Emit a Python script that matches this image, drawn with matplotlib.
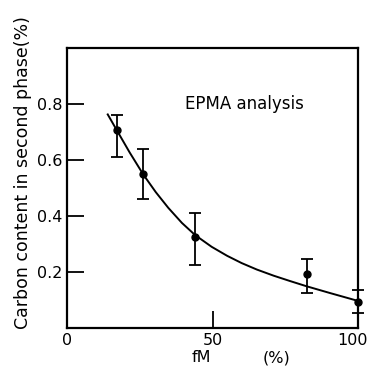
import matplotlib
matplotlib.use("Agg")
import matplotlib.pyplot as plt
import numpy as np

# data
fm = [17.1, 26.2, 44.0, 82.4, 100.0]
carbon = [0.707, 0.549, 0.325, 0.193, 0.095]
err_low = [0.61, 0.46, 0.227, 0.126, 0.055]
err_high = [0.76, 0.64, 0.41, 0.248, 0.138]

curve_x = [14.0, 17.1, 21.5, 26.2, 30.5, 34.8, 39.5, 44.0, 49.7, 55.0, 60.0, 65.2, 71.0, 76.6, 82.4, 90.4, 100.0]
curve_y = [0.763, 0.707, 0.628, 0.549, 0.486, 0.430, 0.376, 0.333, 0.291, 0.259, 0.233, 0.210, 0.188, 0.169, 0.150, 0.126, 0.098]

xticks = [0, 50, 100]
xticklabels = ["0", "50", "100"]
yticks = [0.2, 0.4, 0.6, 0.8]
yticklabels = ["0.2", "0.4", "0.6", "0.8"]

fig = plt.figure(figsize=(3.68, 3.69), dpi=100)
ax = fig.add_axes([0.182, 0.110, 0.791, 0.760])

ax.plot(curve_x, curve_y, color="black", lw=1.4, solid_joinstyle="round")
yerr = [np.array(carbon) - np.array(err_low), np.array(err_high) - np.array(carbon)]
ax.errorbar(fm, carbon, yerr=yerr, fmt="o", color="black", ms=5, capsize=4,
            elinewidth=1.3, capthick=1.3, clip_on=False, zorder=5)

ax.set_xlim(0, 100)
ax.set_ylim(0, 1.0)
ax.set_xticks(xticks)
ax.set_xticklabels(xticklabels[:2] + [""])
ax.set_yticks(yticks)
ax.set_yticklabels(yticklabels)
ax.tick_params(direction="in", length=12, width=1.3, labelsize=11.5, pad=3)
for s in ax.spines.values():
    s.set_linewidth(1.6)

# last x tick label, nudged left so it stays inside the image
lab = ax.annotate(xticklabels[2], xy=(xticks[2], 0), xycoords=("data", "axes fraction"),
                  xytext=(-4, -3), textcoords="offset points", ha="center", va="top",
                  fontsize=11.5, annotation_clip=False)

ax.text(40.5, 0.8, "EPMA analysis", fontsize=12, ha="left", va="center")
fig.text(23 / 368, 1 - 173 / 369, "Carbon content in second phase(%)", fontsize=12.5,
         rotation=90, ha="center", va="center")
fig.text(201 / 368, 1 - 358 / 369, "fM", fontsize=11.5, ha="center", va="center")
fig.text(276 / 368, 1 - 358 / 369, "(%)", fontsize=11.5, ha="center", va="center")

fig.savefig("out.png", dpi=100)
